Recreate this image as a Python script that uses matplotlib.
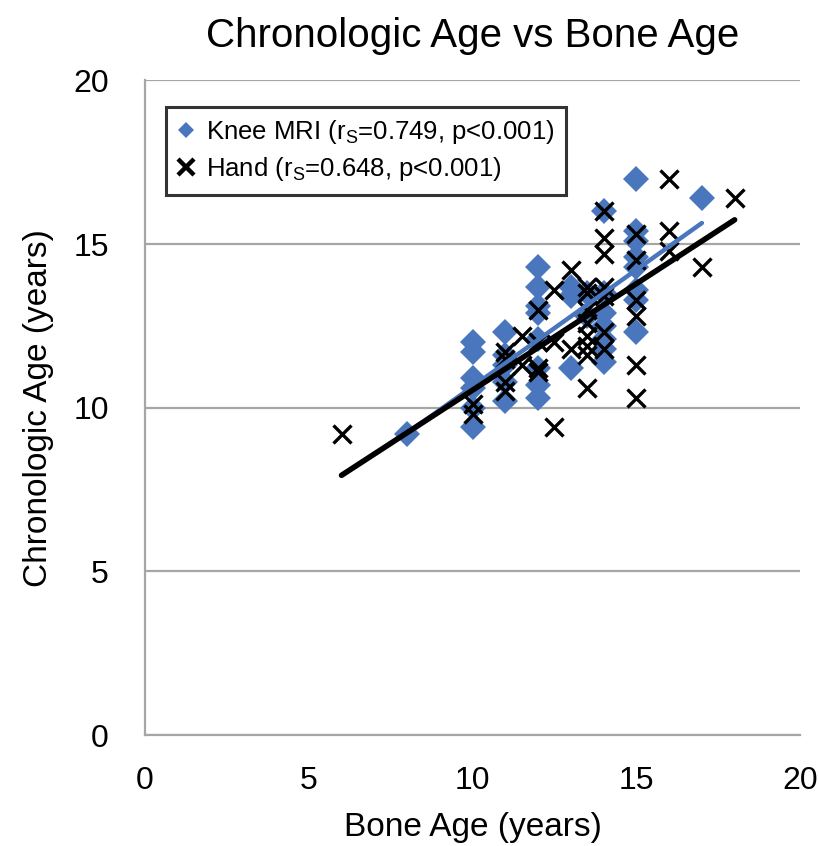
import matplotlib
matplotlib.use("Agg")
import matplotlib.pyplot as plt
from matplotlib.lines import Line2D
import numpy as np

plt.rcParams['font.family'] = ['Liberation Sans', 'DejaVu Sans']
plt.rcParams['mathtext.fontset'] = 'custom'
plt.rcParams['mathtext.rm'] = 'Liberation Sans'
plt.rcParams['mathtext.it'] = 'Liberation Sans'

# knee MRI bone age vs chronologic age
knee_bone = [8,
             10, 10, 10, 10, 10, 10,
             11, 11, 11, 11, 11,
             12, 12, 12, 12, 12, 12, 12, 12,
             13, 13, 13,
             13.5, 13.5,
             14, 14, 14, 14, 14, 14, 14,
             15, 15, 15, 15, 15, 15, 15, 15,
             17]
knee_chrono = [9.2,
               12.0, 11.7, 10.9, 10.6, 10.0, 9.4,
               12.3, 11.6, 11.3, 10.8, 10.2,
               14.3, 13.7, 13.1, 12.9, 12.1, 11.2, 10.7, 10.3,
               13.7, 13.4, 11.2,
               13.5, 12.8,
               16.0, 13.5, 12.9, 12.5, 12.1, 11.8, 11.4,
               17.0, 15.4, 15.1, 14.6, 14.3, 13.6, 13.3, 12.3,
               16.4]

# hand radiograph bone age vs chronologic age
hand_bone = [6,
             10, 10,
             11, 11, 11, 11,
             11.5, 11.5,
             12, 12, 12, 12,
             12.5, 12.5, 12.5,
             13, 13,
             13.5, 13.5, 13.5, 13.5, 13.5, 13.5, 13.5, 13.5,
             14, 14, 14, 14, 14, 14, 14,
             15, 15, 15, 15, 15, 15,
             16, 16, 16,
             17, 18]
hand_chrono = [9.2,
               10.1, 9.8,
               11.7, 11.5, 10.8, 10.5,
               12.2, 11.3,
               13.0, 12.0, 11.2, 11.1,
               13.6, 12.0, 9.4,
               14.2, 11.8,
               13.7, 13.5, 13.0, 12.6, 12.2, 11.9, 11.6, 10.6,
               16.0, 15.2, 14.7, 13.7, 13.4, 12.3, 11.8,
               15.3, 14.5, 13.3, 12.8, 11.3, 10.3,
               17.0, 15.4, 14.8,
               14.3, 16.4]

knee_label = r'Knee MRI (r$_\mathrm{S}$=0.749, p<0.001)'
hand_label = r'Hand (r$_\mathrm{S}$=0.648, p<0.001)'

blue = '#4A76BE'
grid_gray = '#A6A6A6'

fig = plt.figure(figsize=(8.19, 8.46), dpi=100)
ax = fig.add_axes([0.177, 0.131, 0.8, 0.774])

ax.plot(knee_bone, knee_chrono, linestyle='none', marker='D', markersize=13,
        color=blue, markeredgewidth=0, zorder=3)
ax.plot(hand_bone, hand_chrono, linestyle='none', marker='x', markersize=13,
        color='black', markeredgewidth=2.4, zorder=4)

# linear trend lines
kb = np.array(knee_bone, dtype=float)
k_fit = np.polyfit(kb, knee_chrono, 1)
kx = np.array([kb.min(), kb.max()])
ax.plot(kx, np.polyval(k_fit, kx), color=blue, lw=3.2, solid_capstyle='round', zorder=5)

hb = np.array(hand_bone, dtype=float)
h_fit = np.polyfit(hb, hand_chrono, 1)
hx = np.array([hb.min(), hb.max()])
ax.plot(hx, np.polyval(h_fit, hx), color='black', lw=4, solid_capstyle='round', zorder=6)

ax.set_xlim(0, 20)
ax.set_ylim(0, 20)
ax.set_xticks([0, 5, 10, 15, 20])
ax.set_yticks([0, 5, 10, 15, 20])
ax.yaxis.grid(True, color=grid_gray, lw=1.6)
ax.set_axisbelow(True)
for side in ['top', 'right']:
    ax.spines[side].set_visible(False)
for side in ['left', 'bottom']:
    ax.spines[side].set_color(grid_gray)
    ax.spines[side].set_linewidth(1.6)
ax.tick_params(length=0, labelsize=23)
ax.tick_params(axis='x', pad=22)
ax.tick_params(axis='y', pad=26)

ax.set_title('Chronologic Age vs Bone Age', fontsize=29, pad=24)
ax.set_xlabel('Bone Age (years)', fontsize=24, labelpad=12)
ax.set_ylabel('Chronologic Age (years)', fontsize=24, labelpad=14)

handles = [
    Line2D([], [], linestyle='none', marker='D', markersize=8, color=blue, markeredgewidth=0),
    Line2D([], [], linestyle='none', marker='x', markersize=11, color='black', markeredgewidth=3.2),
]
leg = ax.legend(handles, [knee_label, hand_label], loc='upper left',
                bbox_to_anchor=(0.032, 0.96), fontsize=18.5,
                frameon=True, fancybox=False, handlelength=0.7,
                handletextpad=0.4, borderpad=0.45, labelspacing=0.35,
                borderaxespad=0)
leg.get_frame().set_edgecolor('black')
leg.get_frame().set_linewidth(2.2)

fig.savefig('out.png', dpi=100)
